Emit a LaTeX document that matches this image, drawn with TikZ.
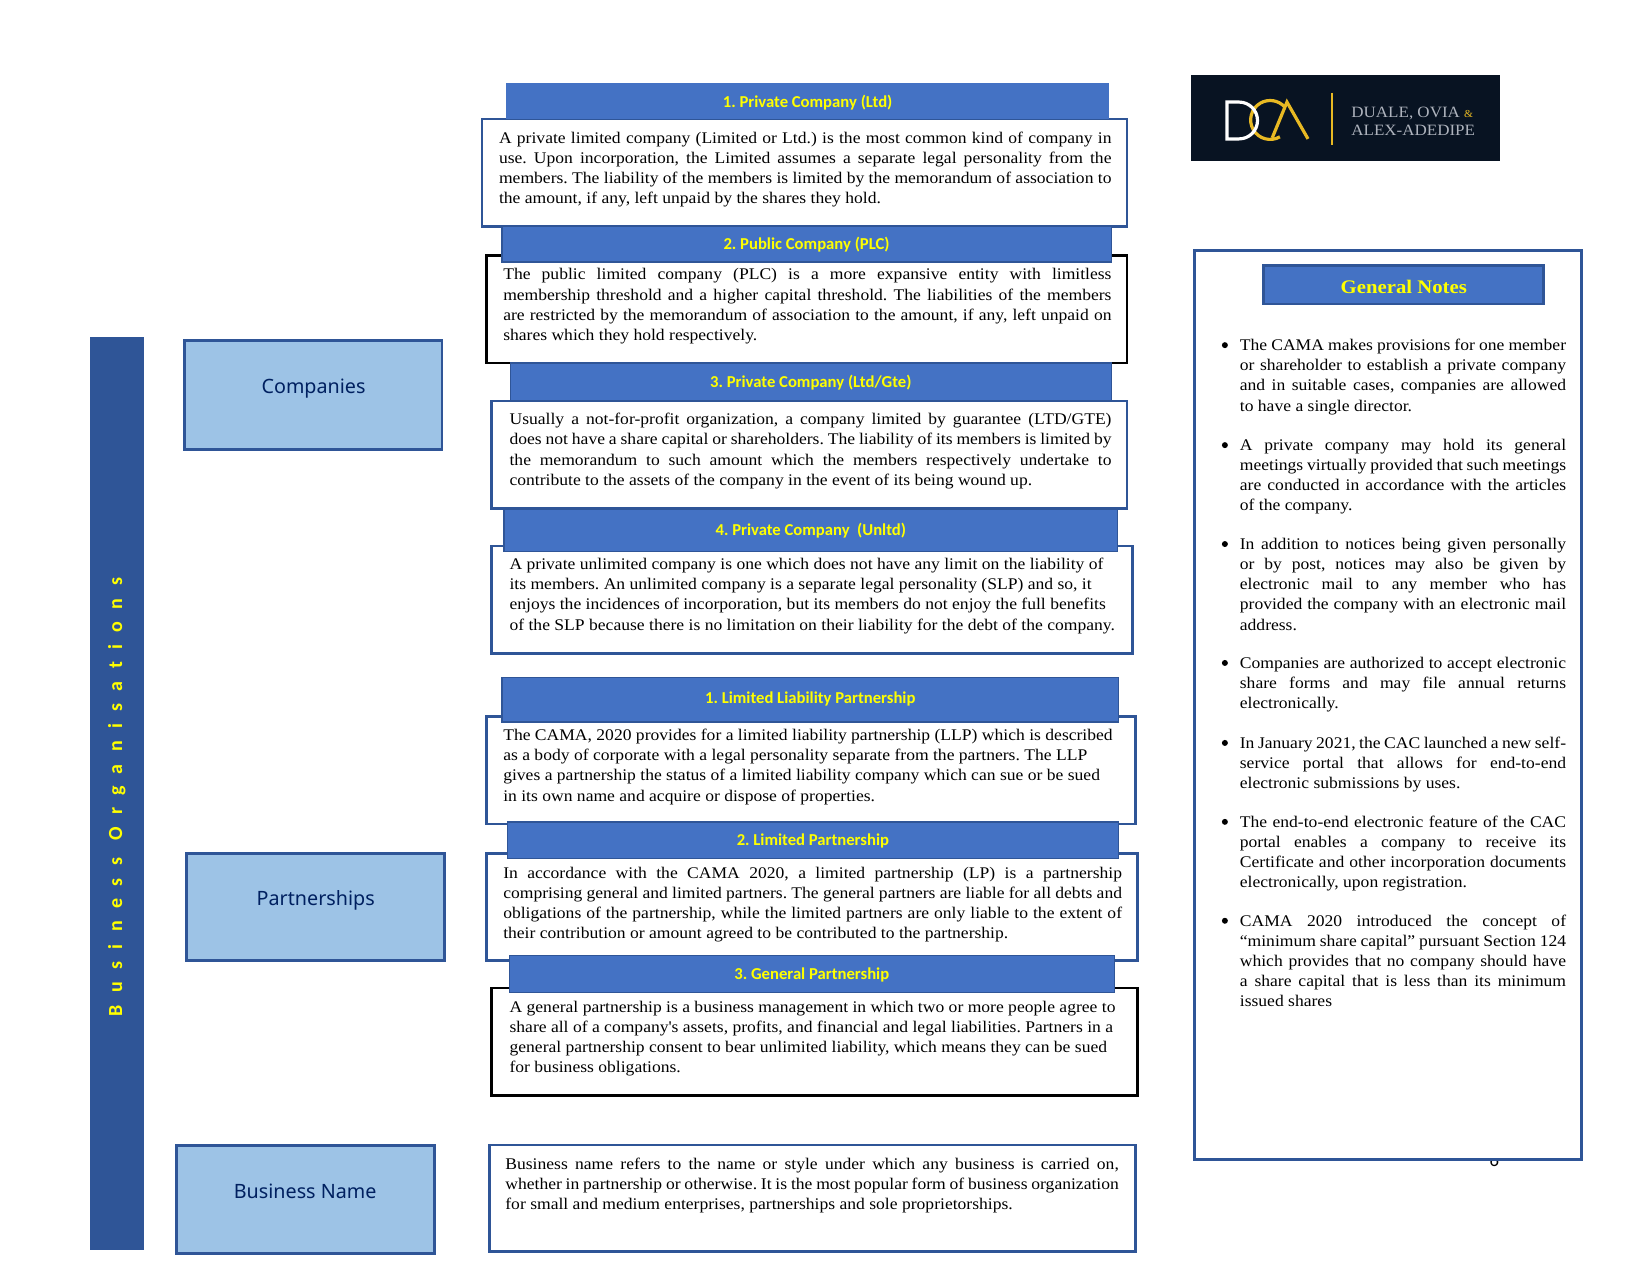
\documentclass[tikz,border=0pt]{standalone}
\usepackage{fontspec}
\setmainfont[FakeStretch=1.08]{Liberation Serif}
\newfontfamily\headfont{Carlito}
\newfontfamily\sidefont{Noto Sans}
\definecolor{headblue}{HTML}{4472C4}
\definecolor{edgeblue}{HTML}{2F5597}
\definecolor{sideblue}{HTML}{9DC3E6}
\definecolor{sidetext}{HTML}{002060}
\definecolor{titleyellow}{HTML}{FFFF00}
\definecolor{logodark}{HTML}{081322}
\definecolor{logogold}{HTML}{E8B923}
\definecolor{logogrey}{HTML}{AEB3BD}
\tikzset{
  sized/.style 2 args = {minimum width=#1*0.7892pt, minimum height=#2*0.7892pt},
  main/.style = {rectangle, anchor=north west, inner sep=0pt, outer sep=0pt},
  headbox/.style = {main, fill=headblue, draw=edgeblue, line width=1pt, text=titleyellow,
    text height=10.5pt, text depth=2.5pt, font=\headfont\bfseries\fontsize{12.5}{14}\selectfont},
  textbox/.style = {main, fill=white, draw=edgeblue, line width=2pt},
  blackbox/.style = {main, fill=white, draw=black, line width=2pt},
  sidebox/.style = {main, fill=sideblue, draw=edgeblue, line width=2.2pt},
  sidelabel/.style = {text=sidetext, font=\sidefont\fontsize{14.8}{16}\selectfont},
  paratext/.style = {anchor=north west, inner sep=0pt, text width=#1*0.7892pt, align=justify,
    font=\fontsize{12.2}{15.15}\selectfont},
  plaintext/.style = {anchor=north west, inner sep=0pt, align=left,
    font=\fontsize{12.2}{15.15}\selectfont},
  notedot/.style = {circle, fill=black, inner sep=0pt, minimum size=4.5pt}
}
\begin{document}
\frenchspacing
\begin{tikzpicture}[x=0.7892pt, y=-0.7892pt]
    \useasboundingbox (0,0) rectangle (1568,1211.7);

    % Left bar
    \node[main, fill=edgeblue, sized={51}{868}] (bar) at (86,320) {};
    \node[rotate=90, text=titleyellow, font=\headfont\bfseries\fontsize{15}{17}\selectfont\addfontfeature{LetterSpace=62,Ligatures=NoCommon}] (bartext) at (111,757.5) {Business Organisations};

    % Side boxes
    \node[sidebox, sized={245}{103}] (companies) at (175,324) {};
    \node[sidebox, sized={245}{102}] (partnerships) at (177,811) {};
    \node[sidebox, sized={245}{102}] (bizname) at (168,1089) {};
    \node[sidelabel] (companiestext) at (298,369.5) {Companies};
    \node[sidelabel] (partnershipstext) at (300,855.5) {Partnerships};
    \node[sidelabel] (biznametext) at (290,1132) {Business Name};

    % Text boxes
    \node[textbox, sized={613}{102}] (boxa) at (458,113) {};
    \node[blackbox, sized={609}{102}] (boxb) at (462,243) {};
    \node[textbox, sized={604}{102}] (boxc) at (467,381) {};
    \node[textbox, sized={609}{102}] (boxd) at (467,519) {};
    \node[textbox, sized={617}{102}] (boxe) at (462,681) {};
    \node[textbox, sized={619}{102}] (boxf) at (462,811) {};
    \node[blackbox, sized={614}{102}] (boxg) at (467,939) {};
    \node[textbox, sized={614}{101}] (boxh) at (465,1088) {};

    % Headers go over the boxes
    \node[headbox, draw=none, text height=11.5pt, sized={573}{34}] (heada) at (481,79) {1. Private Company (Ltd)};
    \node[headbox, sized={579}{34}] (headb) at (477,215) {2. Public Company (PLC)};
    \node[headbox, sized={571}{36}] (headc) at (485,345) {3. Private Company (Ltd/Gte)};
    \node[headbox, sized={583}{40}] (headd) at (479,484) {4. Private Company ~(Unltd)};
    \node[headbox, text height=8.5pt, sized={586}{42}] (heade) at (477,644) {1. Limited Liability Partnership};
    \node[headbox, sized={581}{35}] (headf) at (482,781) {2. Limited Partnership};
    \node[headbox, sized={575}{35}] (headg) at (484,908) {3. General Partnership};

    % Paragraphs
    \node[paratext=582] (txta) at (474,125) {A private limited company (Limited or Ltd.) is the most common kind of company in\linebreak use. Upon incorporation, the Limited assumes a separate legal personality from the\linebreak members. The liability of the members is limited by the memorandum of association to\linebreak the amount, if any, left unpaid by the shares they hold.};
    \node[paratext=578] (txtb) at (478,255) {The public limited company (PLC) is a more expansive entity with limitless\linebreak membership threshold and a higher capital threshold. The liabilities of the members\linebreak are restricted by the memorandum of association to the amount, if any, left unpaid on\linebreak shares which they hold respectively.};
    \node[paratext=572] (txtc) at (484,392.5) {Usually a not-for-profit organization, a company limited by guarantee (LTD/GTE)\linebreak does not have a share capital or shareholders. The liability of its members is limited by\linebreak the memorandum to such amount which the members respectively undertake to\linebreak contribute to the assets of the company in the event of its being wound up.};
    \node[plaintext] (txtd) at (484,530) {A private unlimited company is one which does not have any limit on the liability of\\its members. An unlimited company is a separate legal personality (SLP) and so, it\\enjoys the incidences of incorporation, but its members do not enjoy the full benefits\\of the SLP because there is no limitation on their liability for the debt of the company.};
    \node[plaintext] (txte) at (478,692.5) {The CAMA, 2020 provides for a limited liability partnership (LLP) which is described\\as a body of corporate with a legal personality separate from the partners. The LLP\\gives a partnership the status of a limited liability company which can sue or be sued\\in its own name and acquire or dispose of properties.};
    \node[paratext=588] (txtf) at (478,823.5) {In accordance with the CAMA 2020, a limited partnership (LP) is a partnership\linebreak comprising general and limited partners. The general partners are liable for all debts and\linebreak obligations of the partnership, while the limited partners are only liable to the extent of\linebreak their contribution or amount agreed to be contributed to the partnership.};
    \node[plaintext] (txtg) at (484,951) {A general partnership is a business management in which two or more people agree to\\share all of a company\textquotesingle s assets, profits, and financial and legal liabilities. Partners in a\\general partnership consent to bear unlimited liability, which means they can be sued\\for business obligations.};
    \node[paratext=583] (txth) at (480,1100) {Business name refers to the name or style under which any business is carried on,\linebreak whether in partnership or otherwise. It is the most popular form of business organization\linebreak for small and medium enterprises, partnerships and sole proprietorships.};

    % Logo
    \node[main, fill=logodark, sized={293}{82}] (logo) at (1132,71) {};
    \draw[logogold, line width=2.4pt] (1207,114) ++(60:18.5) arc (60:318:18.5);
    \draw[logogold, line width=2.4pt, line join=miter] (1209,131) -- (1223,97) -- (1243,132);
    \draw[white, line width=2.4pt] (1166,97) -- (1177.5,97) arc (-90:90:17.5) -- (1166,132) -- cycle;
    \draw[logogold, line width=1.2pt] (1266,88) -- (1266,138);
    \node[anchor=west, inner sep=0pt, text=logogrey, font=\fontsize{11.8}{13}\selectfont] (logoa) at (1284,107.5) {DUALE, OVIA {\color{logogold}\fontsize{8}{9}\selectfont\&}};
    \node[anchor=west, inner sep=0pt, text=logogrey, font=\fontsize{11.8}{13}\selectfont] (logob) at (1284,123.5) {ALEX-ADEDIPE};

    % Notes panel
    \node[font=\headfont\fontsize{14}{16}\selectfont] (pagenum) at (1420,1102.5) {6};
    \node[textbox, sized={368}{864}] (notes) at (1135,238) {};
    \node[headbox, sized={266}{37}, line width=2pt, text height=16.5pt, font=\bfseries\fontsize{14.4}{16}\selectfont] (notehead) at (1201,252) {General Notes};

    \foreach \y/\n in {328/a,423/b,517/c,630/d,706/e,781/f,875/g}
        \node[notedot] (dot\n) at (1164,\y) {};

    \node[paratext=310] (notea) at (1178,322) {The CAMA makes provisions for one member\linebreak or shareholder to establish a private company\linebreak and in suitable cases, companies are allowed\linebreak to have a single director.};
    \node[paratext=310] (noteb) at (1178,417) {A private company may hold its general\linebreak meetings virtually provided that such meetings\linebreak are conducted in accordance with the articles\linebreak of the company.};
    \node[paratext=310] (notec) at (1178,511) {In addition to notices being given personally\linebreak or by post, notices may also be given by\linebreak electronic mail to any member who has\linebreak provided the company with an electronic mail\linebreak address.};
    \node[paratext=310] (noted) at (1178,624) {Companies are authorized to accept electronic\linebreak share forms and may file annual returns\linebreak electronically.};
    \node[paratext=310] (notee) at (1178,700) {In January 2021, the CAC launched a new self-\linebreak service portal that allows for end-to-end\linebreak electronic submissions by uses.};
    \node[paratext=310] (notef) at (1178,775) {The end-to-end electronic feature of the CAC\linebreak portal enables a company to receive its\linebreak Certificate and other incorporation documents\linebreak electronically, upon registration.};
    \node[paratext=310] (noteg) at (1178,869) {CAMA 2020 introduced the concept of\linebreak “minimum share capital” pursuant Section 124\linebreak which provides that no company should have\linebreak a share capital that is less than its minimum\linebreak issued shares};
\end{tikzpicture}
\end{document}
